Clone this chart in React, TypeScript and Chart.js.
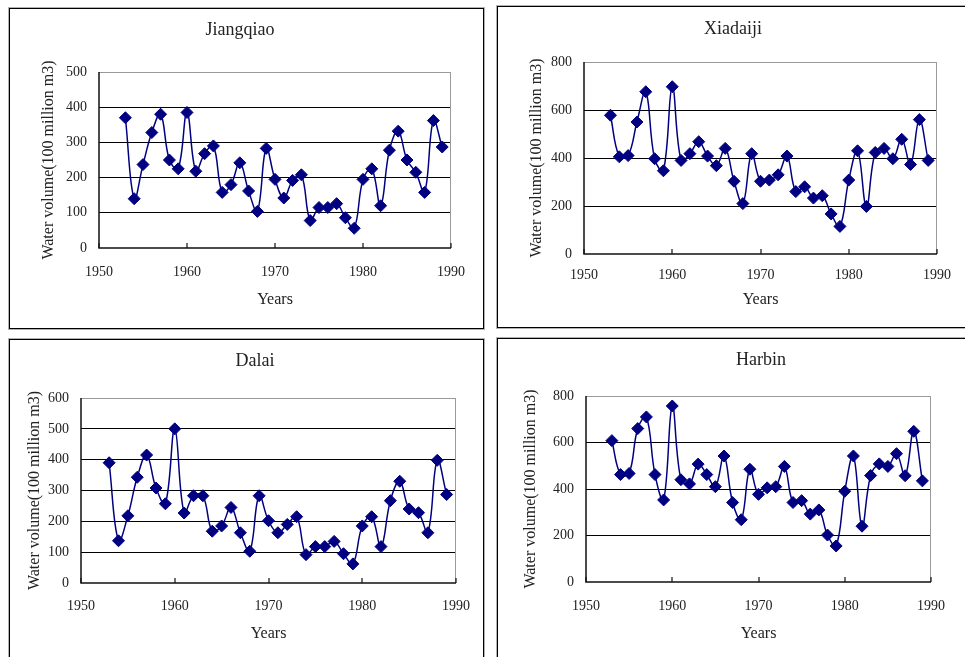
import React, { useEffect, useRef } from 'react';
import { Chart, registerables } from 'chart.js';

Chart.register(...registerables);

// ---------- data ----------
const YEARS = [
  1953, 1954, 1955, 1956, 1957, 1958, 1959, 1960, 1961, 1962, 1963, 1964, 1965,
  1966, 1967, 1968, 1969, 1970, 1971, 1972, 1973, 1974, 1975, 1976, 1977, 1978,
  1979, 1980, 1981, 1982, 1983, 1984, 1985, 1986, 1987, 1988, 1989,
];

const JIANGQIAO = [
  370, 140, 237, 328, 380, 250, 225, 385, 218, 268, 290, 158, 180, 242, 162, 104,
  283, 195, 142, 192, 208, 78, 115, 115, 126, 86, 56, 195, 225, 120, 278, 332,
  250, 215, 158, 362, 287,
];

const XIADAIJI = [
  578, 405, 410, 550, 676, 397, 347, 697, 390, 418, 468, 408, 368, 440, 303, 210,
  418, 303, 308, 330, 408, 260, 280, 233, 243, 167, 115, 308, 430, 198, 423, 440,
  397, 478, 373, 560, 390,
];

const DALAI = [
  390, 137, 218, 343, 415, 308, 257, 500, 227, 283, 283, 168, 185, 245, 163, 103,
  283, 202, 163, 190, 215, 92, 118, 118, 135, 95, 62, 185, 215, 118, 267, 330,
  240, 228, 163, 398, 287,
];

const HARBIN = [
  608, 462, 467, 660, 710, 462, 353, 757, 440, 422, 507, 462, 410, 542, 342, 268,
  485, 377, 405, 410, 497, 342, 350, 292, 310, 202, 155, 390, 542, 240, 458, 508,
  497, 552, 457, 648, 435,
];

const STATIONS = ['Jiangqiao', 'Xiadaiji', 'Dalai', 'Harbin'];
const SERIES = [JIANGQIAO, XIADAIJI, DALAI, HARBIN];
const Y_MAX = [500, 800, 600, 800];
const Y_STEP = [100, 200, 100, 200];
const X_MIN = 1950;
const X_MAX = 1990;
const X_STEP = 10;
const X_TITLE = 'Years';
const Y_TITLE = 'Water volume(100 million m3)';

// ---------- layout (page coordinates) ----------
const LAYOUT = [
  { box: { x: 9, y: 8, w: 475, h: 321 }, plot: { l: 99, r: 451, t: 72, b: 248 }, titleX: 240, titleY: 30, xTickY: 272, xTitleY: 300, yTitleX: 49 },
  { box: { x: 497, y: 6, w: 480, h: 322 }, plot: { l: 584, r: 937, t: 62, b: 254 }, titleX: 733, titleY: 29, xTickY: 275, xTitleY: 300, yTitleX: 537 },
  { box: { x: 9, y: 339, w: 475, h: 330 }, plot: { l: 81, r: 456, t: 398, b: 583 }, titleX: 255, titleY: 361, xTickY: 606, xTitleY: 634, yTitleX: 35 },
  { box: { x: 497, y: 338, w: 480, h: 330 }, plot: { l: 586, r: 931, t: 396, b: 582 }, titleX: 761, titleY: 360, xTickY: 606, xTitleY: 634, yTitleX: 531 },
];

const FONT_FAMILY = "'Liberation Serif', 'DejaVu Serif', serif";
const TICK_SIZE = 14;
const AXIS_SIZE = 16;
const TITLE_SIZE = 18;
const LH = 1.2;
const TEXT_COLOR = '#222';
const LINE_COLOR = '#000080';

const framePlugin = {
  id: 'frame',
  beforeDatasetsDraw(chart: any) {
    const { ctx, chartArea } = chart;
    const { left, right, top, bottom } = chartArea;
    const xs = chart.scales.x;
    ctx.save();
    ctx.lineWidth = 1;
    ctx.strokeStyle = '#9a9a9a';
    ctx.beginPath();
    ctx.moveTo(left, Math.round(top) + 0.5);
    ctx.lineTo(right, Math.round(top) + 0.5);
    ctx.moveTo(Math.round(right) - 0.5, top);
    ctx.lineTo(Math.round(right) - 0.5, bottom);
    ctx.stroke();
    ctx.strokeStyle = '#111';
    ctx.lineWidth = 1.5;
    ctx.beginPath();
    ctx.moveTo(Math.round(left), top);
    ctx.lineTo(Math.round(left), bottom);
    ctx.lineTo(right, bottom);
    ctx.stroke();
    ctx.lineWidth = 1.2;
    ctx.beginPath();
    xs.ticks.forEach((t: any) => {
      const px = Math.round(xs.getPixelForValue(t.value));
      ctx.moveTo(px, bottom);
      ctx.lineTo(px, bottom - 5);
    });
    ctx.stroke();
    ctx.restore();
  },
};

function Panel({ index }: { index: number }) {
  const ref = useRef<HTMLCanvasElement | null>(null);
  const g = LAYOUT[index];
  const cl = g.box.x + 1;
  const ct = g.box.y + 1;
  const H = g.box.h - 2;
  // title is centred over [cl, plot.r + rightGap]; a blank right axis provides the gap
  const rightGap = Math.max(0, 2 * g.titleX - cl - g.plot.r);
  const W = g.plot.r - cl + rightGap;

  useEffect(() => {
    if (!ref.current) return;
    const tickLH = TICK_SIZE * LH;
    const axLH = AXIS_SIZE * LH;
    const tLH = TITLE_SIZE * LH;
    const wy = g.plot.l - cl;
    const yTitlePad = g.yTitleX - cl - axLH / 2;
    const titlePadTop = g.titleY - ct - tLH / 2;
    const titlePadBottom = g.plot.t - g.titleY - tLH / 2;
    const xTickGap = g.xTickY - g.plot.b - tickLH / 2;
    const hx = g.xTitleY + axLH / 2 - g.plot.b;
    const padB = ct + H - g.plot.b - hx;
    const yMax = Y_MAX[index];

    const values = SERIES[index];
    const data = YEARS.map((yr, i) => ({ x: yr, y: values[i] }));

    const chart = new Chart(ref.current, {
      type: 'line',
      data: {
        datasets: [
          {
            label: STATIONS[index],
            data,
            borderColor: LINE_COLOR,
            backgroundColor: LINE_COLOR,
            borderWidth: 1.5,
            tension: 0.4,
            pointStyle: 'rectRot',
            pointRadius: 6,
            pointHoverRadius: 6,
            pointBackgroundColor: LINE_COLOR,
            pointBorderColor: LINE_COLOR,
            pointBorderWidth: 1,
          },
        ],
      },
      options: {
        responsive: false,
        animation: false,
        events: [],
        layout: { padding: { left: 0, right: 0, top: 0, bottom: padB } },
        plugins: {
          legend: { display: false },
          tooltip: { enabled: false },
          title: {
            display: true,
            text: STATIONS[index],
            color: TEXT_COLOR,
            font: { family: FONT_FAMILY, size: TITLE_SIZE, weight: 'normal', lineHeight: LH },
            padding: { top: titlePadTop, bottom: titlePadBottom },
          },
        },
        scales: {
          x: {
            type: 'linear',
            min: X_MIN,
            max: X_MAX,
            afterFit: (s: any) => {
              s.height = hx;
            },
            ticks: {
              stepSize: X_STEP,
              padding: 0,
              color: TEXT_COLOR,
              font: { family: FONT_FAMILY, size: TICK_SIZE, lineHeight: LH },
              callback: (v: any) => String(v),
              maxRotation: 0,
            },
            grid: { display: false, drawTicks: true, tickLength: xTickGap },
            border: { display: false },
            title: {
              display: true,
              text: X_TITLE,
              color: TEXT_COLOR,
              font: { family: FONT_FAMILY, size: AXIS_SIZE, lineHeight: LH },
              padding: { top: 0, bottom: 0 },
            },
          },
          y: {
            type: 'linear',
            position: 'left',
            min: 0,
            max: yMax,
            afterFit: (s: any) => {
              s.width = wy;
            },
            ticks: {
              stepSize: Y_STEP[index],
              padding: 12,
              color: TEXT_COLOR,
              font: { family: FONT_FAMILY, size: TICK_SIZE, lineHeight: LH },
              callback: (v: any) => String(v),
            },
            grid: {
              drawTicks: false,
              lineWidth: 1,
              color: (c: any) =>
                c.tick && (c.tick.value === yMax || c.tick.value === 0) ? 'rgba(0,0,0,0)' : '#000',
            },
            border: { display: false },
            title: {
              display: true,
              text: Y_TITLE,
              color: TEXT_COLOR,
              font: { family: FONT_FAMILY, size: AXIS_SIZE, lineHeight: LH },
              padding: { top: yTitlePad, bottom: 0 },
            },
          },
          gap: {
            type: 'linear',
            position: 'right',
            display: true,
            afterFit: (s: any) => {
              s.width = rightGap;
            },
            ticks: { display: false },
            grid: { display: false, drawTicks: false },
            border: { display: false },
            title: { display: false },
          },
        },
      },
      plugins: [framePlugin],
    } as any);
    return () => chart.destroy();
  }, [index]);

  return (
    <div
      style={{
        position: 'absolute',
        left: g.box.x,
        top: g.box.y,
        width: g.box.w,
        height: g.box.h,
        boxSizing: 'border-box',
        border: '1px solid #000',
        boxShadow: '0 0 0 1px rgba(0,0,0,0.3)',
        background: '#fff',
        overflow: 'hidden',
      }}
    >
      <canvas ref={ref} width={W} height={H} style={{ display: 'block', width: W, height: H }} />
    </div>
  );
}

export default function App() {
  return (
    <div
      style={{
        position: 'absolute',
        left: 0,
        top: 0,
        width: 965,
        height: 657,
        overflow: 'hidden',
        background: '#fff',
      }}
    >
      {STATIONS.map((_, i) => (
        <Panel key={i} index={i} />
      ))}
    </div>
  );
}
